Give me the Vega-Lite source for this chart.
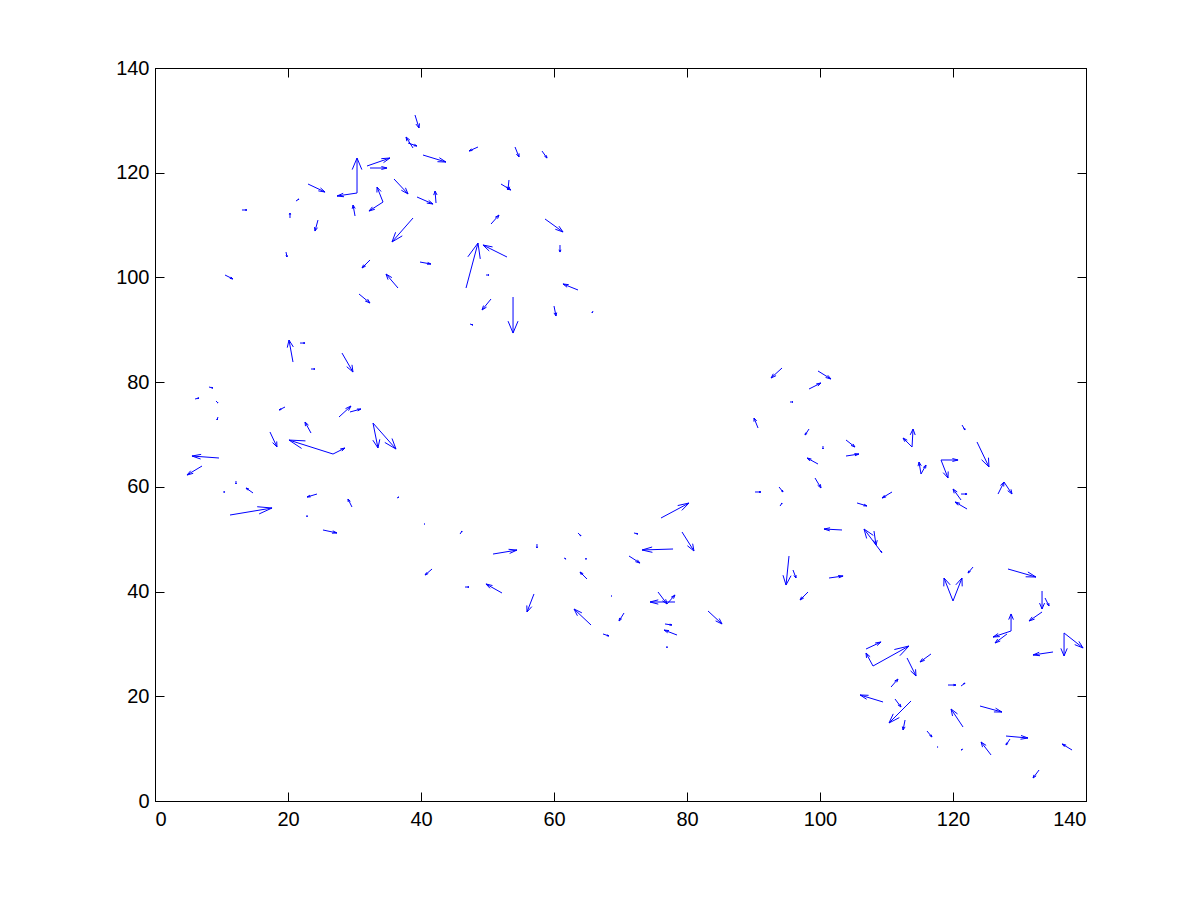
{
  "$schema": "https://vega.github.io/schema/vega-lite/v6.json",
  "width": 931,
  "height": 733,
  "autosize": "none",
  "padding": {"left": 155, "top": 68, "right": 114, "bottom": 99},
  "background": "white",
  "config": {
    "view": {"stroke": "black", "strokeWidth": 1},
    "axis": {"grid": false, "domainColor": "black", "tickColor": "black", "labelColor": "black", "labelFont": "Liberation Sans", "labelFontSize": 20, "tickSize": -9, "labelPadding": 17, "domainWidth": 1, "tickWidth": 1}
  },
  "data": {"values": [
    {"x":39.10,"y":131.02,"u":0.60,"v":-2.48},{"x":38.80,"y":124.72,"u":-1.05,"v":2.10},{"x":38.05,"y":125.67,"u":1.35,"v":-0.57},{"x":40.30,"y":123.38,"u":3.46,"v":-1.34},
    {"x":30.38,"y":116.12,"u":0,"v":6.68},{"x":30.38,"y":116.12,"u":-3.01,"v":-0.57},{"x":31.88,"y":121.28,"u":3.46,"v":1.53},{"x":32.33,"y":120.90,"u":2.56,"v":0},
    {"x":23.01,"y":117.84,"u":2.56,"v":-1.53},{"x":21.20,"y":114.59,"u":0.45,"v":0.38},{"x":13.08,"y":112.88,"u":0.75,"v":0},{"x":20.30,"y":111.35,"u":0,"v":0.95},
    {"x":24.51,"y":110.96,"u":-0.45,"v":-2.10},{"x":30.08,"y":111.73,"u":-0.30,"v":2.10},{"x":34.29,"y":114.40,"u":-0.90,"v":2.86},{"x":34.29,"y":114.40,"u":-2.11,"v":-1.72},
    {"x":35.94,"y":118.80,"u":2.11,"v":-2.86},{"x":39.40,"y":115.36,"u":2.41,"v":-1.34},{"x":42.26,"y":114.21,"u":-0.15,"v":2.29},{"x":38.80,"y":111.35,"u":-3.16,"v":-4.58},
    {"x":32.33,"y":103.33,"u":-1.20,"v":-1.53},{"x":39.85,"y":102.94,"u":1.65,"v":-0.38},{"x":36.54,"y":97.98,"u":-1.80,"v":2.67},{"x":19.70,"y":104.85,"u":0.15,"v":-0.95},
    {"x":10.53,"y":100.46,"u":1.20,"v":-0.76},{"x":30.68,"y":96.83,"u":1.65,"v":-1.72},{"x":48.57,"y":124.91,"u":-1.35,"v":-0.76},{"x":54.14,"y":124.91,"u":0.60,"v":-1.91},
    {"x":58.20,"y":124.14,"u":0.75,"v":-1.34},{"x":52.03,"y":117.84,"u":1.50,"v":-1.15},{"x":53.23,"y":118.61,"u":-0.15,"v":-1.91},{"x":50.53,"y":110.20,"u":1.20,"v":1.72},
    {"x":58.65,"y":111.16,"u":2.71,"v":-2.48},{"x":60.90,"y":106.19,"u":0,"v":-1.34},{"x":46.77,"y":97.98,"u":1.80,"v":8.59},{"x":52.93,"y":103.90,"u":-3.61,"v":2.29},
    {"x":49.78,"y":100.46,"u":0.45,"v":0},{"x":63.61,"y":97.60,"u":-2.26,"v":1.15},{"x":50.53,"y":95.88,"u":-1.35,"v":-2.10},{"x":53.84,"y":96.26,"u":0,"v":-6.88},
    {"x":60.00,"y":94.54,"u":0.30,"v":-1.91},{"x":65.87,"y":93.59,"u":-0.15,"v":-0.38},{"x":47.37,"y":91.10,"u":0.45,"v":-0.19},{"x":20.75,"y":83.84,"u":-0.60,"v":4.20},
    {"x":21.81,"y":87.47,"u":0.75,"v":0},{"x":28.12,"y":85.56,"u":1.65,"v":-3.63},{"x":23.46,"y":82.51,"u":0.60,"v":0},{"x":8.12,"y":79.07,"u":0.60,"v":-0.19},
    {"x":6.02,"y":76.78,"u":0.60,"v":0.19},{"x":9.17,"y":76.40,"u":0.30,"v":-0.38},{"x":9.47,"y":73.34,"u":-0.15,"v":-0.57},{"x":19.55,"y":75.25,"u":-0.90,"v":-0.57},
    {"x":27.67,"y":73.34,"u":1.80,"v":2.10},{"x":29.32,"y":74.30,"u":1.65,"v":0.57},{"x":23.46,"y":70.28,"u":-0.90,"v":2.10},{"x":32.78,"y":72.19,"u":3.46,"v":-4.97},
    {"x":32.78,"y":72.19,"u":0.75,"v":-4.77},{"x":17.29,"y":70.48,"u":1.05,"v":-2.86},{"x":26.77,"y":66.27,"u":-6.62,"v":2.67},{"x":26.77,"y":66.27,"u":1.80,"v":1.15},
    {"x":9.62,"y":65.51,"u":-4.06,"v":0.38},{"x":7.07,"y":63.98,"u":-2.26,"v":-1.72},{"x":12.18,"y":61.12,"u":0,"v":-0.57},{"x":10.23,"y":59.02,"u":0.30,"v":0},
    {"x":14.74,"y":58.83,"u":-1.05,"v":0.95},{"x":24.36,"y":58.63,"u":-1.50,"v":-0.57},{"x":29.62,"y":56.15,"u":-0.60,"v":1.53},{"x":36.39,"y":57.87,"u":0.30,"v":0.19},
    {"x":11.28,"y":54.62,"u":6.32,"v":1.34},{"x":22.86,"y":54.62,"u":0,"v":-0.38},{"x":25.26,"y":51.76,"u":2.11,"v":-0.57},{"x":40.45,"y":52.90,"u":0.15,"v":0},
    {"x":45.87,"y":50.99,"u":0.30,"v":0.57},{"x":50.83,"y":47.17,"u":3.61,"v":0.76},{"x":57.44,"y":49.08,"u":0,"v":-0.76},{"x":63.61,"y":51.19,"u":0.45,"v":-0.57},
    {"x":72.03,"y":51.19,"u":0.60,"v":-0.19},{"x":61.51,"y":46.41,"u":0.30,"v":-0.19},{"x":64.81,"y":46.03,"u":0,"v":0.38},{"x":76.09,"y":54.05,"u":4.21,"v":2.86},
    {"x":79.25,"y":51.38,"u":1.80,"v":-3.63},{"x":77.90,"y":48.13,"u":-4.66,"v":-0.19},{"x":71.28,"y":46.79,"u":1.65,"v":-1.34},{"x":41.66,"y":44.31,"u":-1.05,"v":-1.15},
    {"x":64.96,"y":42.40,"u":-1.05,"v":1.34},{"x":46.62,"y":40.87,"u":0.60,"v":0},{"x":52.18,"y":39.73,"u":-2.41,"v":1.72},{"x":56.99,"y":39.54,"u":-1.05,"v":-3.44},
    {"x":65.57,"y":33.61,"u":-2.56,"v":3.06},{"x":68.57,"y":39.15,"u":0.15,"v":0},{"x":70.53,"y":35.91,"u":-0.75,"v":-1.53},{"x":67.37,"y":31.90,"u":0.90,"v":-0.38},
    {"x":78.20,"y":38.01,"u":-3.76,"v":0},{"x":75.64,"y":39.92,"u":1.35,"v":-2.29},{"x":76.99,"y":37.63,"u":1.20,"v":1.72},{"x":78.50,"y":31.70,"u":-1.95,"v":0.95},
    {"x":76.69,"y":33.81,"u":1.05,"v":-0.19},{"x":76.99,"y":29.60,"u":0,"v":-0.38},{"x":83.16,"y":36.29,"u":2.11,"v":-2.48},{"x":94.29,"y":82.70,"u":-1.65,"v":-1.91},
    {"x":99.70,"y":82.13,"u":1.95,"v":-1.53},{"x":98.35,"y":78.69,"u":1.80,"v":1.15},{"x":95.49,"y":76.21,"u":0.45,"v":0},{"x":90.68,"y":71.24,"u":-0.60,"v":1.91},
    {"x":98.35,"y":71.05,"u":-0.60,"v":-1.15},{"x":100.45,"y":67.80,"u":0,"v":-0.57},{"x":103.91,"y":68.95,"u":1.35,"v":-1.34},{"x":103.91,"y":65.89,"u":1.95,"v":0.38},
    {"x":99.70,"y":64.36,"u":-1.65,"v":1.15},{"x":99.25,"y":61.69,"u":0.90,"v":-1.91},{"x":113.84,"y":67.61,"u":0.15,"v":3.44},{"x":113.84,"y":67.61,"u":-1.35,"v":1.72},
    {"x":115.19,"y":62.45,"u":-0.30,"v":2.29},{"x":115.19,"y":62.45,"u":0.75,"v":1.72},{"x":118.20,"y":65.13,"u":1.05,"v":-3.44},{"x":118.20,"y":65.13,"u":2.56,"v":0},
    {"x":121.36,"y":71.81,"u":0.45,"v":-0.95},{"x":123.61,"y":68.57,"u":1.80,"v":-4.77},{"x":121.21,"y":57.49,"u":-1.20,"v":2.10},{"x":121.21,"y":58.63,"u":0.90,"v":0},
    {"x":122.11,"y":55.77,"u":-1.80,"v":1.34},{"x":90.23,"y":59.02,"u":0.90,"v":0},{"x":93.84,"y":59.97,"u":0.60,"v":-0.95},{"x":93.99,"y":56.34,"u":0.30,"v":0.57},
    {"x":105.57,"y":56.92,"u":1.50,"v":-0.57},{"x":110.83,"y":59.02,"u":-1.50,"v":-1.15},{"x":103.31,"y":51.76,"u":-2.71,"v":0.19},{"x":109.33,"y":47.37,"u":-2.71,"v":4.58},
    {"x":108.12,"y":51.57,"u":0.30,"v":-2.67},{"x":95.34,"y":46.79,"u":-0.45,"v":-5.54},{"x":95.94,"y":44.12,"u":0.45,"v":-1.53},{"x":98.20,"y":39.92,"u":-1.20,"v":-1.53},
    {"x":126.77,"y":58.63,"u":0.90,"v":2.29},{"x":127.67,"y":60.93,"u":1.20,"v":-2.29},{"x":123.01,"y":44.69,"u":-0.75,"v":-1.15},{"x":128.27,"y":44.31,"u":4.21,"v":-1.53},
    {"x":120.00,"y":38.20,"u":-1.35,"v":4.39},{"x":120.00,"y":38.20,"u":1.35,"v":4.39},{"x":133.39,"y":40.11,"u":0,"v":-3.44},{"x":133.84,"y":38.77,"u":0.60,"v":-1.53},
    {"x":133.39,"y":36.10,"u":-1.95,"v":-1.72},{"x":128.73,"y":32.47,"u":0,"v":3.25},{"x":128.73,"y":32.47,"u":-2.71,"v":-1.15},{"x":128.12,"y":31.90,"u":-1.80,"v":-1.72},
    {"x":136.70,"y":32.09,"u":0,"v":-4.39},{"x":136.70,"y":32.09,"u":2.86,"v":-2.86},{"x":135.04,"y":28.46,"u":-3.01,"v":-0.57},{"x":106.92,"y":29.03,"u":2.26,"v":1.34},
    {"x":107.97,"y":25.78,"u":5.41,"v":3.82},{"x":107.97,"y":25.78,"u":-1.05,"v":2.48},{"x":113.09,"y":27.31,"u":1.35,"v":-3.44},{"x":116.69,"y":28.08,"u":-1.65,"v":-1.53},
    {"x":110.68,"y":21.77,"u":1.05,"v":1.53},{"x":119.25,"y":22.15,"u":1.20,"v":0},{"x":121.21,"y":21.96,"u":0.60,"v":0.57},{"x":109.48,"y":18.91,"u":-3.46,"v":1.34},
    {"x":111.28,"y":19.48,"u":0.90,"v":-1.53},{"x":113.69,"y":19.10,"u":-3.31,"v":-4.20},{"x":112.79,"y":15.47,"u":-0.30,"v":-1.91},{"x":121.51,"y":14.13,"u":-1.80,"v":3.44},
    {"x":124.06,"y":18.14,"u":3.31,"v":-1.15},{"x":116.09,"y":13.37,"u":0.75,"v":-1.15},{"x":117.60,"y":10.31,"u":0.15,"v":0},{"x":121.51,"y":9.93,"u":-0.30,"v":-0.19},
    {"x":125.72,"y":8.79,"u":-1.50,"v":2.48},{"x":127.97,"y":12.41,"u":3.31,"v":-0.38},{"x":128.57,"y":11.84,"u":-0.60,"v":-1.15},{"x":137.90,"y":9.74,"u":-1.50,"v":1.15},
    {"x":132.94,"y":5.92,"u":-0.90,"v":-1.53},{"x":109.03,"y":47.75,"u":0.30,"v":-0.19},{"x":101.36,"y":42.59,"u":2.11,"v":0.38}
  ]},
  "transform": [
    {"calculate": "datum.x + datum.u", "as": "xe"},
    {"calculate": "datum.y + datum.v", "as": "ye"},
    {"calculate": "datum.xe - 0.33 * (datum.u + 0.33 * datum.v)", "as": "h1x"},
    {"calculate": "datum.ye - 0.33 * (datum.v - 0.33 * datum.u)", "as": "h1y"},
    {"calculate": "datum.xe - 0.33 * (datum.u - 0.33 * datum.v)", "as": "h2x"},
    {"calculate": "datum.ye - 0.33 * (datum.v + 0.33 * datum.u)", "as": "h2y"}
  ],
  "layer": [
    {
      "mark": {"type": "rule", "color": "#0000ff", "strokeWidth": 1},
      "encoding": {
        "x": {"field": "x", "type": "quantitative", "scale": {"domain": [0, 140], "nice": false}, "axis": {"title": null, "values": [0,20,40,60,80,100,120,140], "orient": "bottom"}},
        "y": {"field": "y", "type": "quantitative", "scale": {"domain": [0, 140], "nice": false}, "axis": {"title": null, "values": [0,20,40,60,80,100,120,140], "orient": "left", "labelPadding": 15}},
        "x2": {"field": "xe"},
        "y2": {"field": "ye"}
      }
    },
    {
      "mark": {"type": "rule", "color": "#0000ff", "strokeWidth": 1},
      "encoding": {
        "x": {"field": "h1x", "type": "quantitative", "scale": {"domain": [0, 140], "nice": false}, "axis": {"title": null, "values": [0,20,40,60,80,100,120,140], "orient": "top", "labels": false}},
        "y": {"field": "h1y", "type": "quantitative", "scale": {"domain": [0, 140], "nice": false}, "axis": {"title": null, "values": [0,20,40,60,80,100,120,140], "orient": "right", "labels": false}},
        "x2": {"field": "xe"},
        "y2": {"field": "ye"}
      }
    },
    {
      "mark": {"type": "rule", "color": "#0000ff", "strokeWidth": 1},
      "encoding": {
        "x": {"field": "h2x", "type": "quantitative", "scale": {"domain": [0, 140], "nice": false}, "axis": null},
        "y": {"field": "h2y", "type": "quantitative", "scale": {"domain": [0, 140], "nice": false}, "axis": null},
        "x2": {"field": "xe"},
        "y2": {"field": "ye"}
      }
    }
  ],
  "resolve": {"axis": {"x": "independent", "y": "independent"}}
}
